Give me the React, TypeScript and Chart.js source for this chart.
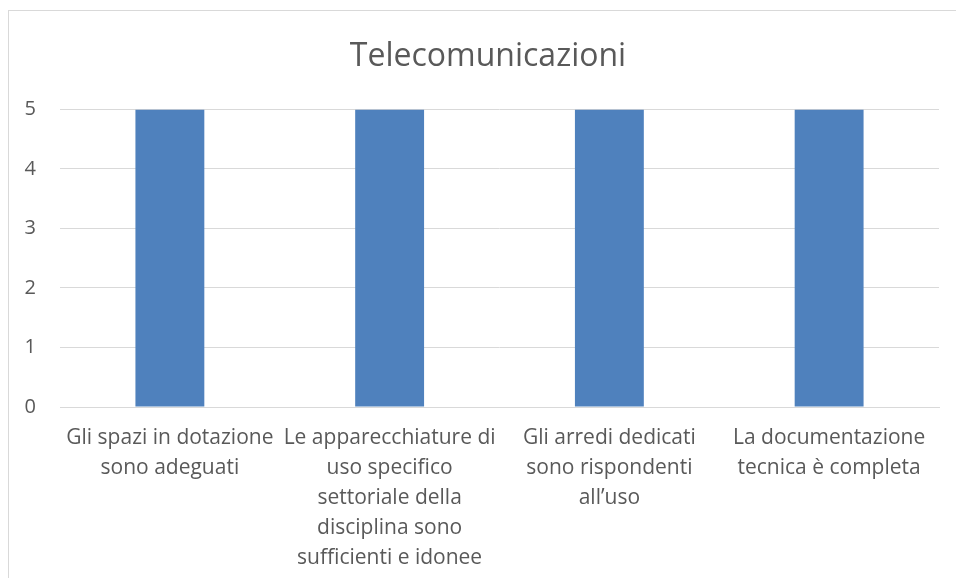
import React, { useEffect, useRef } from "react";
import { Chart, registerables } from "chart.js";

Chart.register(...registerables);

const categories: string[][] = [
  ["Gli spazi in dotazione", "sono adeguati"],
  ["Le apparecchiature di", "uso specifico", "settoriale della", "disciplina sono", "sufficienti e idonee"],
  ["Gli arredi dedicati", "sono rispondenti", "all\u2019uso"],
  ["La documentazione", "tecnica è completa"],
];
const values: number[] = [5, 5, 5, 5];
const titleText = "Telecomunicazioni";
const FONT = "'Open Sans', Lato, sans-serif";
const TEXT = "#595959";
const GRID = "#D9D9D9";
const BAR = "#4F81BD";

// Centre the title over the whole chart frame (which extends past the right edge)
const titleShift = {
  id: "titleShift",
  afterLayout(chart: any) {
    const t = chart.titleBlock;
    if (t) t.left += 37;
  },
};

export default function App() {
  const ref = useRef<HTMLCanvasElement | null>(null);
  useEffect(() => {
    if (!ref.current) return;
    const chart = new Chart(ref.current, {
      type: "bar",
      data: {
        labels: categories,
        datasets: [
          {
            data: values,
            backgroundColor: BAR,
            categoryPercentage: 1,
            barPercentage: 0.3135,
          },
        ],
      },
      options: {
        responsive: false,
        animation: false,
        layout: { padding: { top: 0, right: 17, bottom: 0, left: 0 } },
        plugins: {
          legend: { display: false },
          tooltip: { enabled: false },
          title: {
            display: true,
            text: titleText,
            color: TEXT,
            font: { family: FONT, size: 32, weight: "normal", lineHeight: 1.2 },
            padding: { top: 38, bottom: 33 },
          },
        },
        scales: {
          x: {
            grid: { display: false, drawTicks: false },
            border: { display: true, color: GRID, width: 1 },
            ticks: {
              color: TEXT,
              font: { family: FONT, size: 21, lineHeight: 1.43 },
              padding: 16,
              maxRotation: 0,
              minRotation: 0,
              autoSkip: false,
            },
            afterFit: (scale: any) => {
              scale.height = 171;
            },
          },
          y: {
            min: 0,
            max: 5,
            grid: { color: GRID, lineWidth: 1, drawTicks: false },
            border: { display: false },
            ticks: {
              stepSize: 1,
              color: TEXT,
              font: { family: FONT, size: 20 },
              padding: 24,
            },
            afterFit: (scale: any) => {
              scale.width = 60;
            },
          },
        },
      },
      plugins: [titleShift],
    });
    return () => chart.destroy();
  }, []);
  return (
    <div
      style={{
        position: "fixed",
        left: 0,
        top: 0,
        width: 956,
        height: 578,
        overflow: "hidden",
        background: "#fff",
      }}
    >
      <div
        style={{
          position: "absolute",
          left: 8,
          top: 10,
          width: 1000,
          height: 700,
          border: "1px solid " + GRID,
          boxSizing: "border-box",
        }}
      />
      <canvas
        ref={ref}
        width={956}
        height={578}
        style={{ position: "absolute", left: 0, top: 0, width: 956, height: 578 }}
      />
    </div>
  );
}
